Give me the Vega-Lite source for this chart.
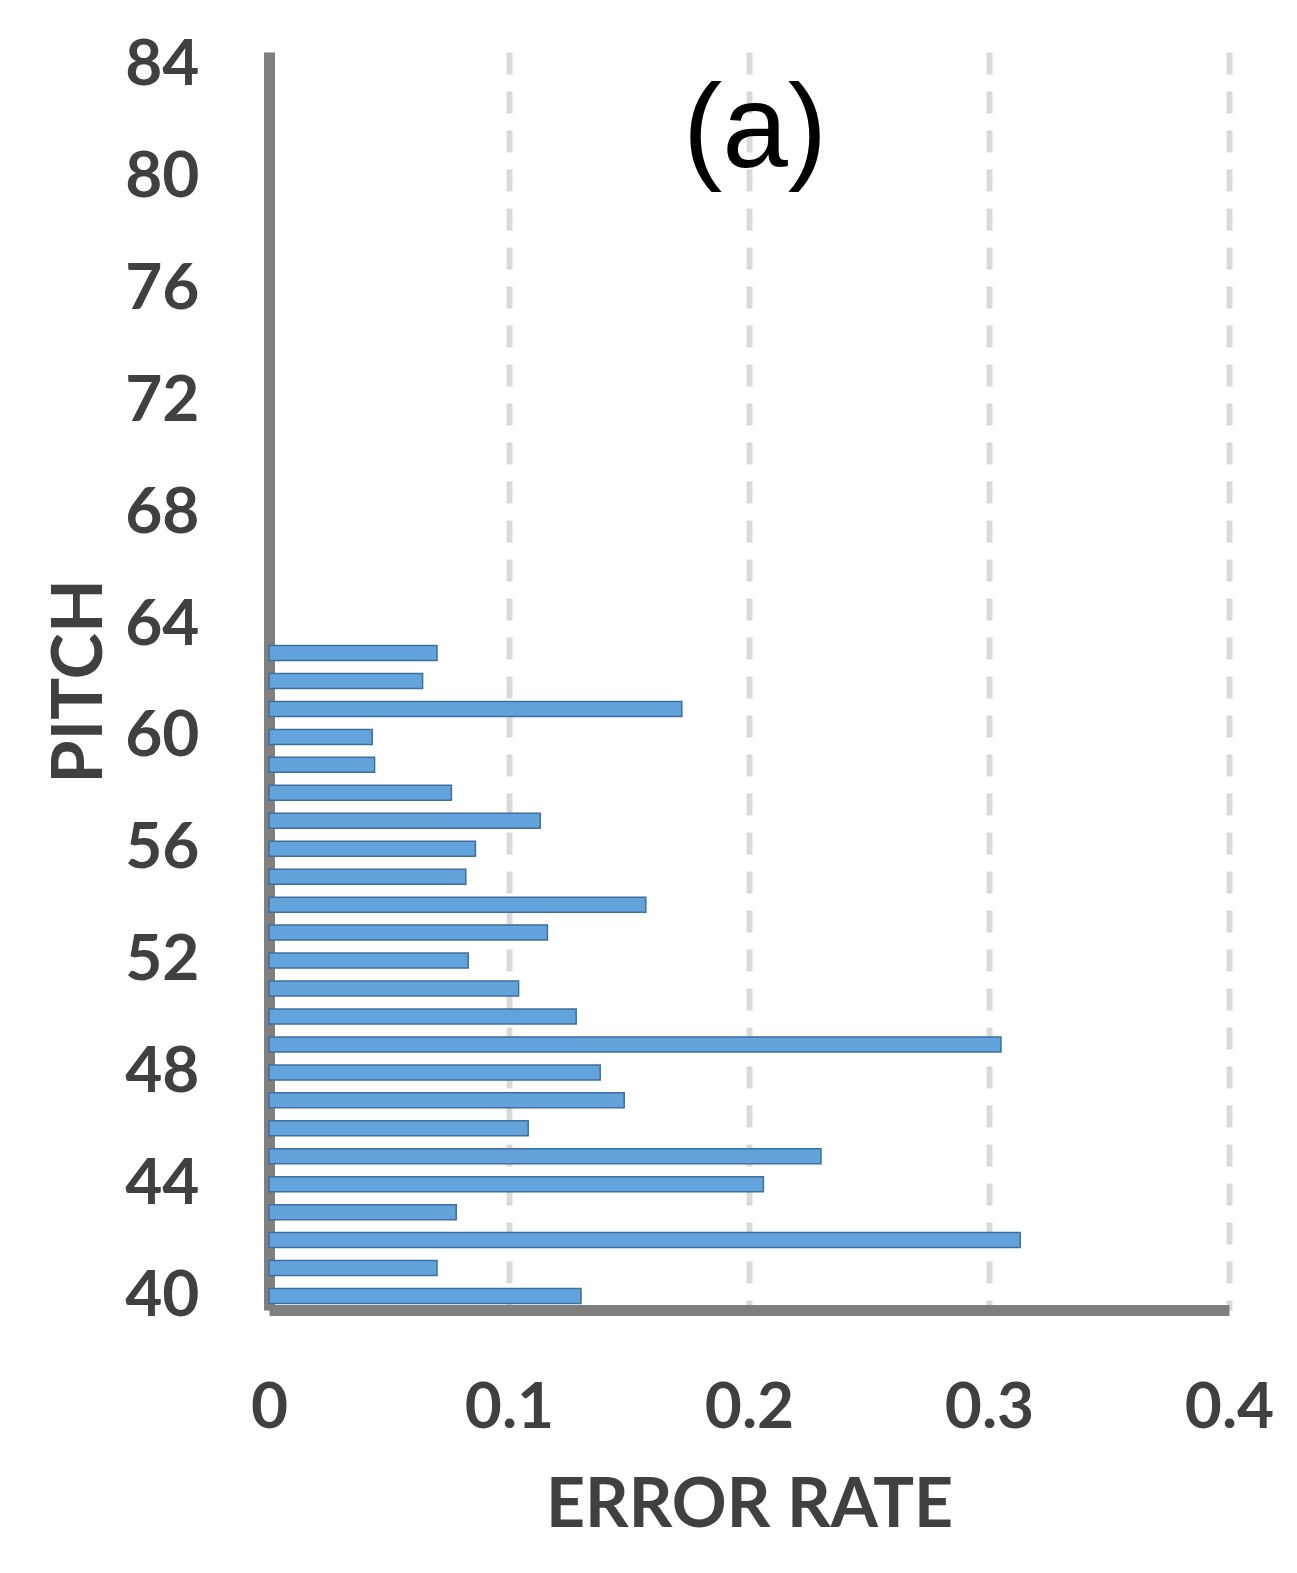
{
  "$schema": "https://vega.github.io/schema/vega-lite/v6.json",
  "width": 960,
  "height": 1258,
  "autosize": "none",
  "padding": {"left": 269, "top": 52, "right": 68, "bottom": 263},
  "background": "white",
  "layer": [
    {
      "data": {
        "values": [
          {"pitch": 40, "error": 0.130},
          {"pitch": 41, "error": 0.070},
          {"pitch": 42, "error": 0.313},
          {"pitch": 43, "error": 0.078},
          {"pitch": 44, "error": 0.206},
          {"pitch": 45, "error": 0.230},
          {"pitch": 46, "error": 0.108},
          {"pitch": 47, "error": 0.148},
          {"pitch": 48, "error": 0.138},
          {"pitch": 49, "error": 0.305},
          {"pitch": 50, "error": 0.128},
          {"pitch": 51, "error": 0.104},
          {"pitch": 52, "error": 0.083},
          {"pitch": 53, "error": 0.116},
          {"pitch": 54, "error": 0.157},
          {"pitch": 55, "error": 0.082},
          {"pitch": 56, "error": 0.086},
          {"pitch": 57, "error": 0.113},
          {"pitch": 58, "error": 0.076},
          {"pitch": 59, "error": 0.044},
          {"pitch": 60, "error": 0.043},
          {"pitch": 61, "error": 0.172},
          {"pitch": 62, "error": 0.064},
          {"pitch": 63, "error": 0.070}
        ]
      },
      "mark": {
        "type": "bar",
        "orient": "horizontal",
        "size": 15,
        "fill": "#62a3db",
        "stroke": "#3f6f9f",
        "strokeWidth": 1.5
      },
      "encoding": {
        "y": {
          "field": "pitch",
          "type": "quantitative",
          "scale": {"domain": [39.5, 84.5], "nice": false, "zero": false, "padding": 0},
          "axis": {
            "values": [40, 44, 48, 52, 56, 60, 64, 68, 72, 76, 80, 84],
            "grid": false,
            "ticks": false,
            "tickSize": 0,
            "labelPadding": 70,
            "labelFont": "Lato",
            "labelFontSize": 64,
            "labelFontWeight": "bold",
            "labelColor": "#404040",
            "domainColor": "#7f7f7f",
            "domainWidth": 11,
            "title": "PITCH",
            "titleFont": "Lato",
            "titleFontSize": 70,
            "titleFontWeight": "bold",
            "titleColor": "#404040",
            "titleAngle": -90,
            "titleBaseline": "alphabetic",
            "titleAlign": "center",
            "titleX": -168,
            "titleY": 629
          }
        },
        "x": {
          "field": "error",
          "type": "quantitative",
          "scale": {"domain": [0, 0.4], "nice": false, "padding": 0},
          "axis": {
            "values": [0, 0.1, 0.2, 0.3, 0.4],
            "labelExpr": "datum.value == 0 ? '0' : format(datum.value, '.1f')",
            "grid": true,
            "gridColor": "#d9d9d9",
            "gridWidth": 6,
            "gridDash": [22, 17],
            "ticks": false,
            "tickSize": 0,
            "labelPadding": 66,
            "labelFont": "Lato",
            "labelFontSize": 64,
            "labelFontWeight": "bold",
            "labelColor": "#404040",
            "labelFlush": false,
            "labelOverlap": false,
            "domainColor": "#7f7f7f",
            "domainWidth": 11,
            "title": "ERROR RATE",
            "titleFont": "Lato",
            "titleFontSize": 68,
            "titleFontWeight": "bold",
            "titleColor": "#404040",
            "titleBaseline": "alphabetic",
            "titleAlign": "center",
            "titleX": 480,
            "titleY": 216
          }
        }
      }
    },
    {
      "data": {"values": [{"label": "(a)"}]},
      "mark": {
        "type": "text",
        "font": "Liberation Sans",
        "fontSize": 118,
        "fontWeight": "normal",
        "color": "black",
        "align": "center",
        "baseline": "alphabetic",
        "dx": 6
      },
      "encoding": {
        "text": {"field": "label"},
        "x": {"datum": 0.2, "type": "quantitative"},
        "y": {"datum": 80.39, "type": "quantitative"}
      }
    }
  ],
  "config": {"view": {"stroke": null}}
}
